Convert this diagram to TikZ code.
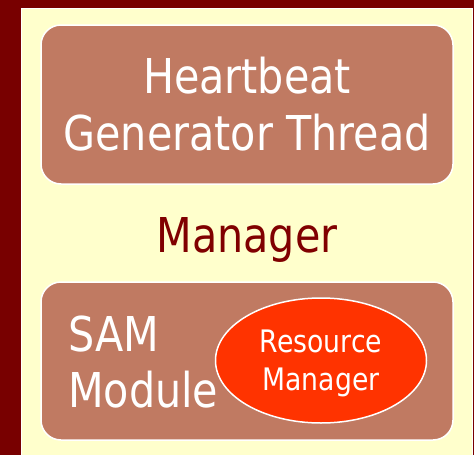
\documentclass[tikz,border=0pt]{standalone}
\usepackage{fontspec}
\setmainfont{DejaVu Sans}[FakeStretch=0.86]
\usetikzlibrary{shapes.geometric}

\definecolor{framered}{RGB}{120,0,0}
\definecolor{paleyellow}{RGB}{255,255,204}
\definecolor{boxbrown}{RGB}{192,122,98}
\definecolor{rmred}{RGB}{255,51,0}
\definecolor{mgrred}{RGB}{128,0,0}

\tikzset{
  threadbox/.style={draw=white, line width=1.5pt, fill=boxbrown, rounded corners=20pt},
  bigtext/.style={text=white, inner sep=0pt, font=\fontsize{48}{57}\selectfont},
  rmnode/.style={ellipse, draw=white, line width=1.5pt, fill=rmred, text=white,
    minimum width=211pt, minimum height=125pt, inner sep=0pt, align=center,
    text depth=0pt, font=\fontsize{31}{38}\selectfont}
}

\begin{document}
\begin{tikzpicture}[x=1pt,y=-1pt]
\useasboundingbox (0,0) rectangle (474,455);

% frame and panel
\fill [framered] (0,0) rectangle (474,455);
\draw [white, line width=1pt, fill=paleyellow] (21.5,8) rectangle (472.5,457);

% heartbeat thread
\draw [threadbox] (41,25) rectangle (453,184);
\node [bigtext, align=center] (hbgen) at (247,104.5) {Heartbeat\\Generator Thread};

% manager label
\node [inner sep=0pt, anchor=base, text=mgrred, font=\fontsize{48}{57}\selectfont] (mgr) at (247,252) {Manager};

% SAM module
\draw [threadbox] (41,282) rectangle (453,440);
\node [bigtext, align=left, anchor=west, font=\fontsize{48}{56}\selectfont] (sam) at (68,362) {SAM\\Module};
\node [rmnode] (resmgr) at (321,360.5) {Resource\\Manager};

\end{tikzpicture}
\end{document}
